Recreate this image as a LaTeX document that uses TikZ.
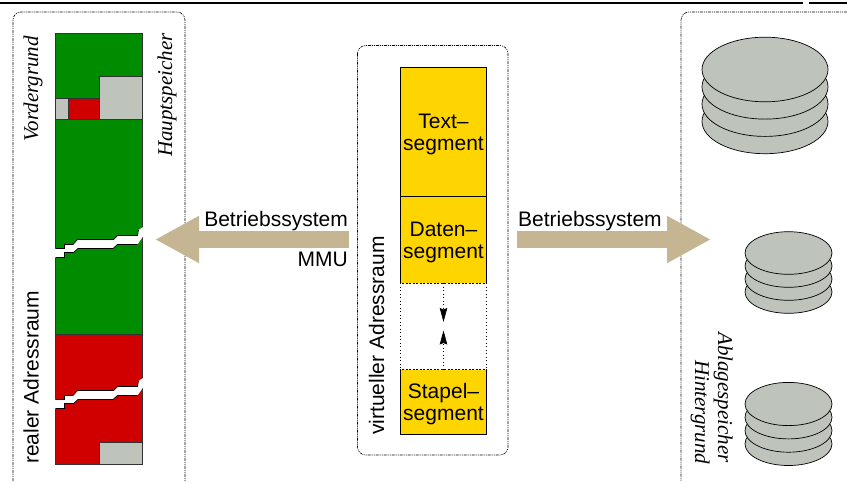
\documentclass[tikz,border=0pt]{standalone}
\usepackage{fontspec}
\setmainfont{Liberation Serif}
\setsansfont{Liberation Sans}
\usetikzlibrary{arrows.meta}
\definecolor{cgreen}{HTML}{008C00}
\definecolor{cred}{HTML}{D00000}
\definecolor{cyel}{HTML}{FFD500}
\definecolor{cgrey}{HTML}{BEC3BC}
\definecolor{ctan}{HTML}{C5B593}
\tikzset{
  frame/.style={line width=0.6pt,dash pattern=on 3pt off 1pt on 1pt off 1pt on 1pt off 1pt,rounded corners=8pt},
  memblock/.style={draw=black!80,line width=0.7pt},
  segbox/.style={draw=black,line width=0.7pt,fill=cyel,minimum width=86pt,inner sep=0pt,outer sep=0pt,anchor=north west,align=center,font=\sffamily\fontsize{21}{22}\selectfont},
  sans/.style={font=\sffamily\fontsize{21}{24}\selectfont,inner sep=0pt},
  ital/.style={font=\itshape\fontsize{21}{24}\selectfont,inner sep=0pt},
  bigarrow/.style={draw=ctan,line width=17pt,-{Triangle[length=44pt,width=44pt]}},
  dotline/.style={line width=0.7pt,dash pattern=on 1pt off 2.5pt},
  disc/.style={draw=black,fill=cgrey,line width=0.7pt},
}
\newcommand{\segstrut}{\rule{0pt}{19.5pt}}
\newcommand{\breakmark}[1]{%
  \fill[white,shift={(0,#1)}] (54,248.5)--(64.5,248.5)--(64.5,244.5)--(73,244.5)--(77.5,239.5)--(113.5,239.5)--(117.5,235.5)--(137.5,235.5)--(138.5,230)--(144,226.5)--(144,235)--(137.5,244.5)--(117.5,244.5)--(113,248.5)--(78,248.5)--(73.5,252.5)--(64.5,252.5)--(64.5,257.5)--(54,257.5)--cycle;
  \draw[black,line width=0.7pt,shift={(0,#1)}] (55.5,248.5)--(64.5,248.5)--(64.5,244.5)--(73,244.5)--(77.5,239.5)--(113.5,239.5)--(117.5,235.5)--(137.5,235.5)--(138.5,230);
  \draw[black,line width=0.7pt,shift={(0,#1)}] (55.5,257.5)--(64.5,257.5)--(64.5,252.5)--(73.5,252.5)--(78,248.5)--(113,248.5)--(117.5,244.5)--(137.5,244.5);
}
\newcommand{\discstack}[5]{% cx, top cy, rx, ry, step
  \foreach \k in {3,2,1,0}{
    \draw[disc] (#1,#2+\k*#5) ellipse [x radius=#3, y radius=#4];
  }
}
\begin{document}
\begin{tikzpicture}[x=1pt,y=-1pt]
\useasboundingbox (0,0) rectangle (847,483);
% top rule
\draw[line width=2pt] (0,3.2) -- (803,3.2) (809,3.2) -- (847,3.2);
% frames
\draw[frame] (13,481) -- (13,12) -- (185,12) -- (185,481);
\draw[frame] (357.5,45.5) rectangle (508,455);
\draw[frame] (847,12) -- (681,12) -- (681,481);
% memory column
\fill[cgreen] (55.5,33) rectangle (142,334);
\fill[cred] (55.5,334) rectangle (142,464);
\draw[memblock] (55.5,33) rectangle (142,334);
\draw[memblock] (55.5,334) rectangle (142,464);
\draw[memblock,fill=cgrey] (99,76) rectangle (142,119);
\draw[memblock,fill=cgrey] (55.5,98) rectangle (68.5,119);
\draw[memblock,fill=cred] (68.5,98) rectangle (99,119);
\draw[memblock,fill=cgrey] (99,442) rectangle (142,464);
\breakmark{0}
\breakmark{151}
% column labels
\node[ital,rotate=90,anchor=base west] (vg) at (38,142) {Vordergrund};
\node[ital,rotate=90,anchor=base west] (hs) at (172,157) {Hauptspeicher};
\node[sans,rotate=90,anchor=base west] (ra) at (38.5,464) {realer Adressraum};
\node[sans,rotate=90,anchor=base west] (va) at (384,435) {virtueller Adressraum};
\node[ital,rotate=-90,anchor=base west] (as) at (718,332) {Ablagespeicher};
\node[ital,rotate=-90,anchor=base west] (hg) at (695,360) {Hintergrund};
% segments
\node[segbox,minimum height=129pt] (text) at (400.5,67.5) {\segstrut Text--\\segment};
\node[segbox,minimum height=86.5pt] (daten) at (400.5,196.5) {\segstrut Daten--\\segment};
\node[segbox,minimum height=64.5pt] (stapel) at (400.5,369.5) {\segstrut Stapel--\\segment};
\draw[dotline] (daten.south west) -- (stapel.north west);
\draw[dotline] (daten.south east) -- (stapel.north east);
\draw[white,line width=0.7pt,dash pattern=on 1.5pt off 2pt] (daten.south west) -- (daten.south east);
\draw[white,line width=0.7pt,dash pattern=on 1.5pt off 2pt] (stapel.north west) -- (stapel.north east);
\coordinate (gapA) at (443.5,322);
\coordinate (gapB) at (443.5,330.5);
\draw[dotline,-{Stealth[length=14pt,width=7.5pt,inset=1.5pt]}] (daten.south) -- (gapA);
\draw[dotline,-{Stealth[length=14pt,width=7.5pt,inset=1.5pt]}] (stapel.north) -- (gapB);
% big arrows
\coordinate (la) at (349,239.5);
\coordinate (lb) at (155,239.5);
\coordinate (ra1) at (517,239.5);
\coordinate (ra2) at (711,239.5);
\draw[bigarrow] (la) -- (lb);
\draw[bigarrow] (ra1) -- (ra2);
\node[sans,anchor=base east] (b1) at (348,226) {Betriebssystem};
\node[sans,anchor=base east] (mm) at (348,266) {MMU};
\node[sans,anchor=base west] (b2) at (518,226) {Betriebssystem};
% discs
\discstack{765}{69.5}{63}{32.3}{17.3}
\discstack{788.5}{253}{43.5}{21.3}{13}
\discstack{788.5}{404}{43.5}{21.6}{13.3}
\end{tikzpicture}
\end{document}
